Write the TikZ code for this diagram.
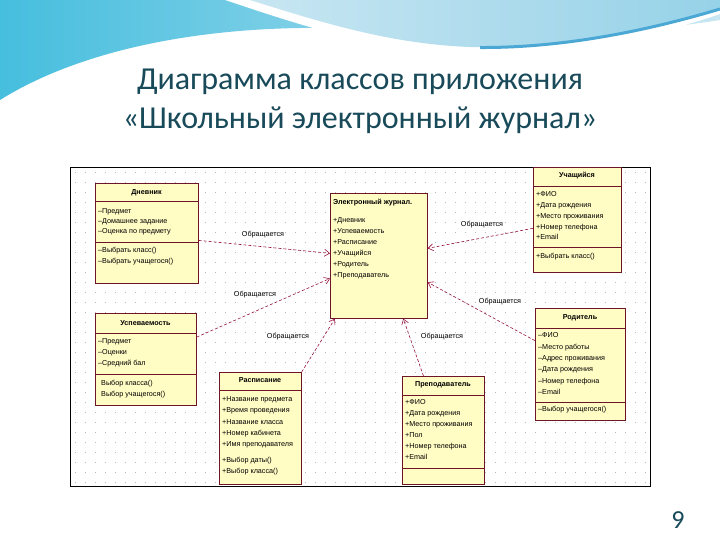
\documentclass[tikz,border=0pt]{standalone}
\usepackage{fontspec}
\setmainfont{Liberation Sans}
\newfontfamily\titlefont{Carlito}
\usetikzlibrary{arrows.meta,calc}
\definecolor{ttl}{RGB}{24,74,90}
\definecolor{bord}{RGB}{110,20,40}
\definecolor{fillc}{RGB}{255,252,196}
\definecolor{conn}{RGB}{150,20,60}
\definecolor{wavea}{RGB}{70,190,222}
\definecolor{waveb}{RGB}{200,230,242}
\definecolor{wavec}{RGB}{150,210,232}
\definecolor{waved}{RGB}{75,168,212}
\begin{document}
\begin{tikzpicture}[x=1pt,y=-1pt,
 cls/.style={draw=bord, fill=fillc, line width=0.7pt, anchor=north west, inner sep=0pt},
 row/.style={anchor=west, inner sep=0pt, font=\fontsize{7.2}{8}\selectfont, text height=5pt, text depth=1.5pt},
 hdr/.style={row, anchor=center, font=\fontsize{7.2}{8}\selectfont\bfseries},
 sepl/.style={draw=bord, line width=0.7pt},
 rel/.style={draw=conn, line width=0.6pt, dash pattern=on 3pt off 2pt, -{Straight Barb[length=5pt,width=7pt]}},
 lbl/.style={font=\fontsize{7.2}{8}\selectfont, inner sep=1pt}]
\useasboundingbox (0,0) rectangle (720,540);
\fill[white] (0,0) rectangle (720,540);
% background waves
\shade[left color=wavea, right color=waveb] (0,0) -- (720,0) -- (720,20) .. controls (560,45) and (420,30) .. (330,28) .. controls (200,26) and (80,50) .. (0,100) -- cycle;
\fill[white] (225,0) .. controls (300,25) and (380,52) .. (470,55) .. controls (560,57) and (650,38) .. (720,14) -- (720,0) -- cycle;
\shade[left color=waveb, right color=wavec] (250,0) .. controls (320,22) and (390,44) .. (470,47) .. controls (560,49) and (650,30) .. (720,8) -- (720,0) -- cycle;
\draw[waved, line width=3pt] (480,47.5) .. controls (565,48) and (650,30) .. (720,9);
% title
\node[font=\titlefont\fontsize{32}{36}\selectfont, text=ttl] (t1) at (360,82) {Диаграмма классов приложения};
\node[font=\titlefont\fontsize{32}{36}\selectfont, text=ttl] (t2) at (360,120) {«Школьный электронный журнал»};
\node[font=\titlefont\fontsize{26}{30}\selectfont, text=ttl] (pg) at (678,520) {9};
% frame and grid
\fill[white] (70,167) rectangle (650,486);
\foreach \yy in {172,182,...,482}
  \draw[gray!55, line width=0.8pt, dash pattern=on 0.8pt off 9.2pt] (75,\yy) -- (648,\yy);
\draw[black, line width=0.8pt] (70,167) rectangle (650,486);
% Дневник
\node[cls, minimum width=103, minimum height=100] (dn) at (95,183) {};
\node[hdr] (dnh) at (146.5,193) {Дневник};
\draw[sepl] (dn.west |- 0,201) -- (dn.east |- 0,201);
\foreach \t [count=\i] in {–Предмет,–Домашнее задание,–Оценка по предмету}
  \node[row] (dna\i) at (98,{212+(\i-1)*10}) {\t};
\draw[sepl] (dn.west |- 0,242) -- (dn.east |- 0,242);
\foreach \t [count=\i] in {–Выбрать класс(),–Выбрать учащегося()}
  \node[row] (dno\i) at (98,{251+(\i-1)*11}) {\t};
% Электронный журнал
\node[cls, minimum width=97, minimum height=125] (ej) at (330,193) {};
\node[hdr, anchor=west] (ejh) at (333,203) {Электронный журнал.};
\foreach \t [count=\i] in {+Дневник,+Успеваемость,+Расписание,+Учащийся,+Родитель,+Преподаватель}
  \node[row] (eja\i) at (333,{221+(\i-1)*11}) {\t};
% Учащийся
\node[cls, minimum width=88, minimum height=105] (uc) at (533,167) {};
\node[hdr] (uch) at (577,176) {Учащийся};
\draw[sepl] (uc.west |- 0,186) -- (uc.east |- 0,186);
\foreach \t [count=\i] in {+ФИО,+Дата рождения,+Место проживания,+Номер телефона,+Email}
  \node[row] (uca\i) at (536,{195+(\i-1)*10.8}) {\t};
\draw[sepl] (uc.west |- 0,247) -- (uc.east |- 0,247);
\node[row] (uco1) at (536,257) {+Выбрать класс()};
% Успеваемость
\node[cls, minimum width=101, minimum height=92] (us) at (95,313) {};
\node[hdr] (ush) at (145.5,324) {Успеваемость};
\draw[sepl] (us.west |- 0,333) -- (us.east |- 0,333);
\foreach \t [count=\i] in {–Предмет,–Оценки,–Средний бал}
  \node[row] (usa\i) at (98,{342+(\i-1)*11}) {\t};
\draw[sepl] (us.west |- 0,374) -- (us.east |- 0,374);
\foreach \t [count=\i] in {Выбор класса(),Выбор учащегося()}
  \node[row] (uso\i) at (101,{384+(\i-1)*11}) {\t};
% Расписание
\node[cls, minimum width=82, minimum height=112] (rs) at (219,372) {};
\node[hdr] (rsh) at (260,381) {Расписание};
\draw[sepl] (rs.west |- 0,390) -- (rs.east |- 0,390);
\foreach \t [count=\i] in {+Название предмета,+Время проведения,+Название класса,+Номер кабинета,+Имя преподавателя}
  \node[row] (rsa\i) at (222,{400+(\i-1)*11.2}) {\t};
\foreach \t [count=\i] in {+Выбор даты(),+Выбор класса()}
  \node[row] (rso\i) at (222,{461+(\i-1)*11}) {\t};
% Преподаватель
\node[cls, minimum width=82, minimum height=108] (pr) at (402,376) {};
\node[hdr] (prh) at (443,385) {Преподаватель};
\draw[sepl] (pr.west |- 0,395) -- (pr.east |- 0,395);
\foreach \t [count=\i] in {+ФИО,+Дата рождения,+Место проживания,+Пол,+Номер телефона,+Email}
  \node[row] (pra\i) at (405,{403+(\i-1)*11}) {\t};
\draw[sepl] (pr.west |- 0,468) -- (pr.east |- 0,468);
% Родитель
\node[cls, minimum width=90, minimum height=112] (rd) at (535,308) {};
\node[hdr] (rdh) at (580,318) {Родитель};
\draw[sepl] (rd.west |- 0,328) -- (rd.east |- 0,328);
\foreach \t [count=\i] in {–ФИО,–Место работы,–Адрес проживания,–Дата рождения,–Номер телефона,–Email}
  \node[row] (rda\i) at (538,{336+(\i-1)*11.4}) {\t};
\draw[sepl] (rd.west |- 0,402) -- (rd.east |- 0,402);
\node[row] (rdo1) at (538,410) {–Выбор учащегося()};
% connectors
\draw[rel] ($(dn.north east)!0.57!(dn.south east)$) -- ($(ej.north west)!0.48!(ej.south west)$);
\draw[rel] ($(us.north east)!0.26!(us.south east)$) -- ($(ej.north west)!0.68!(ej.south west)$);
\draw[rel] (rs.north east) -- ($(ej.south west)!0.05!(ej.south east)$);
\draw[rel] ($(pr.north west)!0.26!(pr.north east)$) -- ($(ej.south west)!0.75!(ej.south east)$);
\draw[rel] ($(rd.north west)!0.29!(rd.south west)$) -- ($(ej.north east)!0.71!(ej.south east)$);
\draw[rel] ($(uc.north west)!0.58!(uc.south west)$) -- ($(ej.north east)!0.44!(ej.south east)$);
% labels
\node[lbl] (l1) at (263,235) {Обращается};
\node[lbl] (l2) at (255,295) {Обращается};
\node[lbl] (l3) at (288,337) {Обращается};
\node[lbl] (l4) at (442,337) {Обращается};
\node[lbl] (l5) at (500,302) {Обращается};
\node[lbl] (l6) at (482,225) {Обращается};
\end{tikzpicture}
\end{document}
